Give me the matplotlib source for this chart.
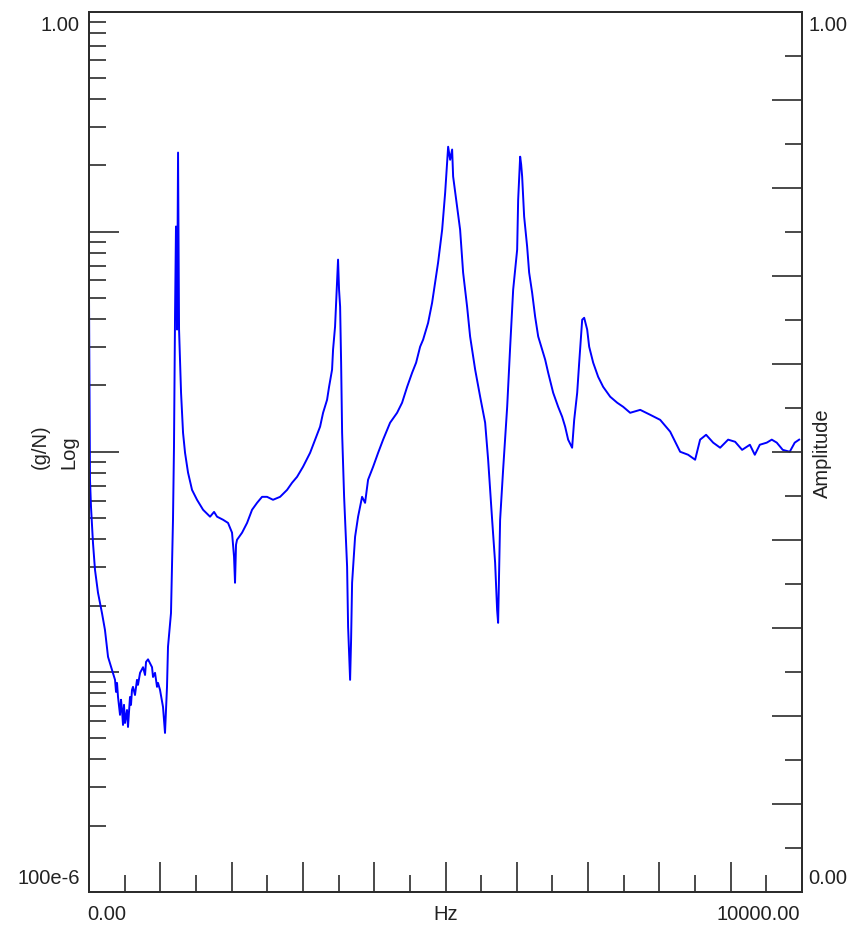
import matplotlib
matplotlib.use("Agg")
import matplotlib.pyplot as plt
from matplotlib.ticker import FixedLocator, NullFormatter

# frequency response (Hz, g/N)
freq_hz = [
    0, 14, 28, 56, 84, 126, 182, 224, 267,
    323, 365, 379, 393, 407, 435, 449, 463, 477, 491, 505,
    533, 547, 575, 589, 603, 617, 645, 673, 687,
    716, 758, 786, 800, 828, 884, 898, 926, 954, 968, 996, 1038, 1066, 1094,
    1108, 1150, 1178, 1192, 1207, 1220, 1235, 1249, 1263, 1291,
    1319, 1347, 1389, 1445, 1515, 1600, 1698, 1754, 1796, 1880,
    1950, 2006, 2034, 2048, 2062, 2076, 2147, 2217, 2287, 2357,
    2427, 2497, 2581, 2680, 2778, 2848, 2918, 3002, 3101, 3171,
    3241, 3283, 3339, 3367, 3409, 3423, 3451, 3479, 3493, 3507,
    3522, 3536, 3550, 3578, 3620, 3634, 3662, 3676, 3690, 3732,
    3774, 3830, 3872, 3914, 3985, 4055, 4125, 4223, 4321, 4391,
    4462, 4532, 4588, 4644, 4686, 4756, 4812, 4854, 4896, 4953,
    4995, 5037, 5065, 5093, 5107, 5163, 5205, 5247, 5303, 5345,
    5416, 5486, 5556, 5598, 5654, 5696, 5724, 5738, 5766, 5808,
    5865, 5907, 5949, 6005, 6019, 6047, 6061, 6075, 6103, 6145,
    6173, 6215, 6257, 6300, 6356, 6398, 6440, 6510, 6580, 6636,
    6678, 6720, 6776, 6805, 6847, 6875, 6917, 6945, 6987, 7015,
    7071, 7141, 7211, 7310, 7408, 7492, 7590, 7731, 7871, 8011,
    8151, 8291, 8403, 8501, 8571, 8655, 8754, 8852, 8964, 9062,
    9160, 9269, 9338, 9408, 9506, 9576, 9646, 9730, 9828, 9898, 9960,
]
mag_gn = [
    0.0518, 0.00746, 0.00562, 0.00385, 0.00291, 0.00229, 0.00185, 0.00155, 0.00117,
    0.00102, 0.00092, 0.000811, 0.000891, 0.000769, 0.000638, 0.000747, 0.000671, 0.000574, 0.000708, 0.000586,
    0.000671, 0.000562, 0.000769, 0.000708, 0.000828, 0.000855, 0.000785, 0.00092, 0.000873,
    0.00099, 0.00105, 0.000968, 0.00111, 0.00114, 0.00105, 0.000948, 0.00099, 0.000855, 0.000891, 0.000828, 0.000693, 0.000528, 0.000855,
    0.0013, 0.00185, 0.00491, 0.01055, 0.0429, 0.1055, 0.0359, 0.2286, 0.0359, 0.01854,
    0.01219, 0.00989, 0.00804, 0.00671, 0.00605, 0.00545, 0.00507, 0.00533, 0.00507, 0.00491,
    0.00475, 0.00429, 0.00334, 0.00254, 0.00378, 0.00398, 0.00429, 0.00475, 0.00545, 0.00586,
    0.00624, 0.00624, 0.00605, 0.00624, 0.00671, 0.00723, 0.00769, 0.00855, 0.00989, 0.01135,
    0.0130, 0.01503, 0.01722, 0.01972, 0.0236, 0.0291, 0.037, 0.0586, 0.0746, 0.0545,
    0.0456, 0.0254, 0.01219, 0.00624, 0.0030, 0.0016, 0.00092, 0.0014, 0.00254, 0.00411,
    0.00507, 0.00624, 0.00586, 0.00746, 0.00855, 0.00989, 0.01135, 0.01355, 0.01503, 0.0167,
    0.01972, 0.02286, 0.0254, 0.030, 0.0323, 0.0385, 0.0475, 0.0586, 0.0723, 0.102,
    0.150, 0.243, 0.212, 0.236, 0.178, 0.130, 0.102, 0.0652, 0.0456, 0.0334,
    0.0236, 0.01778, 0.01355, 0.0092, 0.00491, 0.00313, 0.00191, 0.00167, 0.00491, 0.00828,
    0.016, 0.030, 0.0545, 0.0828, 0.1396, 0.219, 0.202, 0.178, 0.117, 0.0855,
    0.0652, 0.0528, 0.0411, 0.0334, 0.0291, 0.0262, 0.02286, 0.01854, 0.016, 0.01442,
    0.0130, 0.01135, 0.01043, 0.01396, 0.01854, 0.0254, 0.0398, 0.0406, 0.0359, 0.030,
    0.0254, 0.0219, 0.01972, 0.01778, 0.0167, 0.016, 0.01503, 0.0155, 0.01472, 0.01396,
    0.01234, 0.0100, 0.00969, 0.0092, 0.01135, 0.01194, 0.0110, 0.01043, 0.01135, 0.0111,
    0.0102, 0.01076, 0.00969, 0.01076, 0.0110, 0.01135, 0.0110, 0.0102, 0.0100, 0.0110, 0.01135,
]

x_major = [1000, 2000, 3000, 4000, 5000, 6000, 7000, 8000, 9000]
x_minor = [500, 1500, 2500, 3500, 4500, 5500, 6500, 7500, 8500, 9500]
log_major = [1e-3, 1e-2, 1e-1]
log_subs = [2, 3, 4, 5, 6, 7, 8, 9]
amp_major = [0.1, 0.2, 0.3, 0.4, 0.5, 0.6, 0.7, 0.8, 0.9]
amp_minor = [0.05, 0.15, 0.25, 0.35, 0.45, 0.55, 0.65, 0.75, 0.85, 0.95]

W, H = 850, 927
plt.rcParams["font.family"] = ["Liberation Sans", "DejaVu Sans"]
dark = "#2b2b2b"

fig = plt.figure(figsize=(W / 100, H / 100), dpi=100)
fig.patch.set_facecolor("white")

left, right, top, bottom = 89, 802, 11.5, 892
ax = fig.add_axes([left / W, 1 - bottom / H, (right - left) / W, (bottom - top) / H])

ax.plot(freq_hz, mag_gn, color="#0000ff", linewidth=1.4)
ax.set_xlim(0, 10000)
ax.set_yscale("log")
ax.set_ylim(1e-4, 1)

ax.xaxis.set_major_locator(FixedLocator(x_major))
ax.xaxis.set_minor_locator(FixedLocator(x_minor))
ax.yaxis.set_major_locator(FixedLocator(log_major))
ax.yaxis.set_minor_locator(FixedLocator([d * s for d in [1e-4, 1e-3, 1e-2, 1e-1] for s in log_subs]))
for a in (ax.xaxis, ax.yaxis):
    a.set_major_formatter(NullFormatter())
    a.set_minor_formatter(NullFormatter())

ax.tick_params(which="both", direction="in", color=dark, width=1.2,
               top=False, right=False, labelleft=False, labelbottom=False)
ax.tick_params(which="major", length=21.5)
ax.tick_params(which="minor", length=12)

ax2 = ax.twinx()
ax2.set_ylim(0, 1)
ax2.yaxis.set_major_locator(FixedLocator(amp_major))
ax2.yaxis.set_minor_locator(FixedLocator(amp_minor))
ax2.yaxis.set_major_formatter(NullFormatter())
ax2.yaxis.set_minor_formatter(NullFormatter())
ax2.tick_params(which="both", direction="in", color=dark, width=1.2, labelright=False)
ax2.tick_params(which="major", length=21.5)
ax2.tick_params(which="minor", length=12)

for a in (ax, ax2):
    for sp in a.spines.values():
        sp.set_color(dark)
        sp.set_linewidth(1.3)


def px(x, y):
    return x / W, 1 - y / H


fs = 14.5
tc = "#222222"
fig.text(*px(80, 25.5), "1.00", ha="right", va="center", fontsize=fs, color=tc)
fig.text(*px(80, 878.5), "100e-6", ha="right", va="center", fontsize=fs, color=tc)
fig.text(*px(808, 25.5), "1.00", ha="left", va="center", fontsize=fs, color=tc)
fig.text(*px(808, 878.5), "0.00", ha="left", va="center", fontsize=fs, color=tc)
fig.text(*px(87, 914), "0.00", ha="left", va="center", fontsize=fs, color=tc)
fig.text(*px(445.5, 914), "Hz", ha="center", va="center", fontsize=fs, color=tc)
fig.text(*px(800, 914), "10000.00", ha="right", va="center", fontsize=fs, color=tc)
fig.text(*px(40, 447), "(g/N)", ha="center", va="center", rotation=90, fontsize=fs, color=tc)
fig.text(*px(69, 452), "Log", ha="center", va="center", rotation=90, fontsize=fs, color=tc)
fig.text(*px(822, 453), "Amplitude", ha="center", va="center", rotation=90, fontsize=fs, color=tc)

fig.savefig("out.png", dpi=100, facecolor="white")
